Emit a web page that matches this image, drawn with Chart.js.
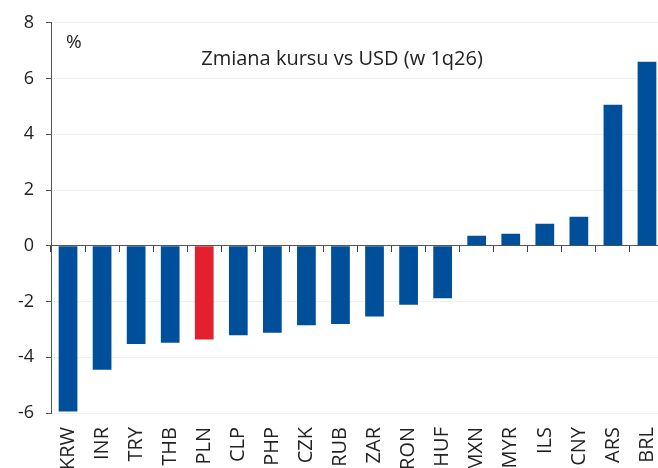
<!DOCTYPE html>
<html>
<head>
<meta charset="utf-8">
<script src="https://cdn.jsdelivr.net/npm/chart.js@4/dist/chart.umd.min.js"></script>
<style>
  html, body { margin: 0; padding: 0; background: #fff; overflow: hidden; }
  #wrap { width: 664px; height: 476px; }
</style>
</head>
<body>
<div id="wrap"><canvas id="fxChart"></canvas></div>
<script>
const categories = ["KRW","INR","TRY","THB","PLN","CLP","PHP","CZK","RUB","ZAR","RON","HUF","MXN","MYR","ILS","CNY","ARS","BRL"];
const changes = [-5.95, -4.45, -3.52, -3.48, -3.36, -3.21, -3.12, -2.85, -2.81, -2.54, -2.12, -1.88, 0.36, 0.43, 0.79, 1.04, 5.06, 6.6];
const highlighted = "PLN";
const yMin = -6, yMax = 8, yStep = 2;
const chartTitle = "Zmiana kursu vs USD (w 1q26)";
const unitLabel = "%";

const blue = "#004f9a";
const red = "#e3202e";
const fontFamily = "'Open Sans', 'DejaVu Sans', sans-serif";

// title and unit drawn inside the plot
const insideText = {
    id: "insideText",
    afterDraw(chart) {
        const ctx = chart.ctx;
        const area = chart.chartArea;
        ctx.save();
        ctx.fillStyle = "#222";
        ctx.textBaseline = "middle";
        ctx.font = "20px " + fontFamily;
        ctx.textAlign = "center";
        ctx.fillText(chartTitle, area.left + 291, area.top + 36);
        ctx.font = "19px " + fontFamily;
        ctx.textAlign = "left";
        ctx.fillText(unitLabel, area.left + 15, area.top + 20);
        ctx.restore();
    }
};

new Chart(document.getElementById("fxChart"), {
    type: "bar",
    data: {
        labels: categories,
        datasets: [{
            data: changes,
            backgroundColor: categories.map(c => c === highlighted ? red : blue),
            barPercentage: 0.55,
            categoryPercentage: 1,
            xAxisID: "x",
            yAxisID: "y"
        }]
    },
    options: {
        animation: false,
        responsive: true,
        maintainAspectRatio: false,
        layout: { padding: { top: 22, left: 0, right: 0, bottom: 0 } },
        plugins: {
            legend: { display: false },
            tooltip: { enabled: false }
        },
        scales: {
            x: {
                type: "category",
                position: "bottom",
                offset: true,
                grid: { display: false, drawTicks: false },
                border: { display: false },
                ticks: {
                    color: "#222",
                    font: { family: fontFamily, size: 20 },
                    minRotation: 90,
                    maxRotation: 90,
                    autoSkip: false,
                    padding: 14
                },
                afterFit(scale) {
                    scale.height = 63;
                    scale.paddingLeft = 0;
                    scale.paddingRight = 0;
                }
            },
            x2: {
                type: "category",
                position: { y: 0 },
                offset: true,
                grid: {
                    offset: true,
                    drawOnChartArea: false,
                    drawTicks: true,
                    tickLength: 6,
                    tickColor: "#444"
                },
                border: { display: true, color: "#555", width: 1 },
                ticks: { display: false }
            },
            y: {
                min: yMin,
                max: yMax,
                ticks: {
                    stepSize: yStep,
                    color: "#222",
                    font: { family: fontFamily, size: 18 },
                    padding: 12
                },
                grid: {
                    color: "#f0f0f0",
                    tickColor: "#555",
                    tickLength: 5
                },
                border: { display: true, color: "#555", width: 1 },
                afterFit(scale) { scale.width = 51; }
            }
        }
    },
    plugins: [insideText]
});
</script>
</body>
</html>
